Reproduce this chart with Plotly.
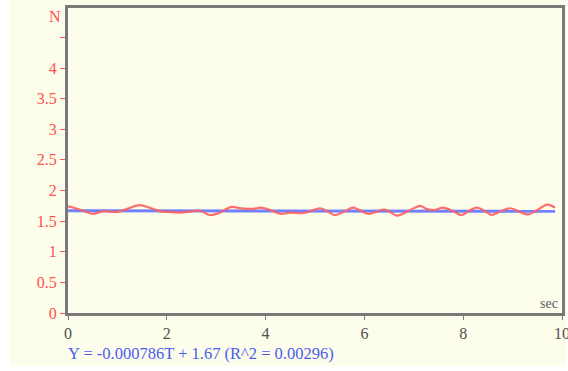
import plotly.graph_objects as go

# Data
time_s = [0.0, 0.15, 0.3, 0.5, 0.7, 1.0, 1.2, 1.45, 1.65, 1.87, 2.05, 2.27, 2.5, 2.67, 2.87, 3.05,
          3.3, 3.5, 3.75, 3.9, 4.1, 4.3, 4.5, 4.75, 4.9, 5.1, 5.25, 5.4, 5.6, 5.77, 5.9, 6.07,
          6.2, 6.38, 6.5, 6.66, 6.9, 7.13, 7.25, 7.4, 7.6, 7.8, 7.97, 8.1, 8.28, 8.45, 8.58,
          8.75, 8.95, 9.1, 9.3, 9.5, 9.7, 9.86]
force_n = [1.74, 1.71, 1.67, 1.62, 1.66, 1.65, 1.70, 1.76, 1.72, 1.66, 1.65, 1.64, 1.66, 1.67, 1.60, 1.63,
           1.73, 1.71, 1.70, 1.72, 1.68, 1.62, 1.64, 1.63, 1.66, 1.71, 1.66, 1.60, 1.66, 1.72, 1.68, 1.62,
           1.64, 1.69, 1.66, 1.59, 1.67, 1.75, 1.70, 1.68, 1.72, 1.66, 1.60, 1.66, 1.72, 1.66, 1.60,
           1.66, 1.71, 1.67, 1.61, 1.68, 1.77, 1.72]
fit_slope = -0.000786
fit_intercept = 1.67
fit_label = "Y = -0.000786T + 1.67 (R^2 = 0.00296)"
x_ticks = [0, 2, 4, 6, 8, 10]
y_ticks = [0, 0.5, 1, 1.5, 2, 2.5, 3, 3.5, 4, 4.5]
y_tick_text = ["0", "0.5", "1", "1.5", "2", "2.5", "3", "3.5", "4", ""]

fit_x = [time_s[0], time_s[-1]]
fit_y = [fit_intercept + fit_slope * t for t in fit_x]

fig = go.Figure()
fig.add_trace(go.Scatter(x=fit_x, y=fit_y, mode="lines",
                         line=dict(color="#7080ff", width=3), hoverinfo="skip"))
fig.add_trace(go.Scatter(x=time_s, y=force_n, mode="lines", line_shape="spline",
                         line=dict(color="#ff6060", width=2.2), opacity=0.9))

font_family = "Liberation Serif"
L, R, T, B = 68, 6, 8, 58
W, H = 568, 371
pw, ph = W - L - R, H - T - B

def px(xp):
    return (xp - L) / pw

def py(yp):
    return (H - B - yp) / ph

fig.update_layout(
    width=W, height=H,
    margin=dict(l=L, r=R, t=T, b=B, autoexpand=False),
    paper_bgcolor="#ffffff",
    plot_bgcolor="#fffff0",
    showlegend=False,
    shapes=[dict(type="rect", xref="paper", yref="paper", layer="below",
                 x0=px(10), x1=px(566), y0=py(366), y1=py(0),
                 fillcolor="#fdfdeb", line=dict(width=0))],
    xaxis=dict(range=[0, 10], tickvals=x_ticks, showgrid=False, zeroline=False,
               automargin=False, ticklabeloverflow="allow",
               showline=True, linecolor="#7a7a7a", linewidth=3, mirror=True,
               ticks="outside", ticklen=4, tickcolor="#7a7a7a",
               tickfont=dict(family=font_family, size=16, color="#505050")),
    yaxis=dict(range=[0, 4.98], tickvals=y_ticks, ticktext=y_tick_text,
               showgrid=False, zeroline=False, automargin=False,
               showline=True, linecolor="#7a7a7a", linewidth=3, mirror=True,
               ticks="outside", ticklen=5, tickcolor="#ff5050",
               tickfont=dict(family=font_family, size=16, color="#ff5050")),
    annotations=[
        dict(text="N", xref="paper", yref="paper", x=px(63), y=py(16),
             xanchor="right", yanchor="middle", showarrow=False,
             font=dict(family=font_family, size=16, color="#ff5050")),
        dict(text="sec", xref="paper", yref="paper", x=px(560), y=py(303),
             xanchor="right", yanchor="middle", showarrow=False,
             font=dict(family=font_family, size=14, color="#606060")),
        dict(text=fit_label, xref="paper", yref="paper", x=px(66), y=py(353),
             xanchor="left", yanchor="middle", showarrow=False,
             font=dict(family=font_family, size=16.5, color="#4a5cf0")),
    ],
)

fig.write_html("out.html", config={"displayModeBar": False},
               post_script="document.body.style.margin='0px';document.body.style.overflow='hidden';")
